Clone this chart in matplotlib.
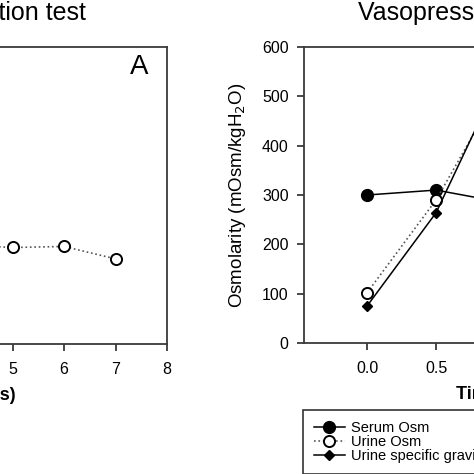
import matplotlib
matplotlib.use("Agg")
import matplotlib.pyplot as plt

plt.rcParams['font.family'] = ['Liberation Sans', 'DejaVu Sans']

# Panel A: water deprivation test (only part visible)
wd_hours = [4, 5, 6, 7]
wd_urine_osm = [200, 195, 197, 172]

# Panel B: vasopressin test
vp_hours = [0.0, 0.5, 1.0]
vp_serum_osm = [300, 310, 284]
vp_urine_osm = [102, 290, 535]
vp_urine_sg = [75, 264, 560]

W = 474.0
fig = plt.figure(figsize=(4.74, 4.74), dpi=100)

def frac(x0, y_top, w, h):
    return [x0 / W, 1 - (y_top + h) / W, w / W, h / W]

spine_col = '#3a3a3a'

def style(ax):
    for s in ax.spines.values():
        s.set_color(spine_col)
        s.set_linewidth(1.3)
    ax.tick_params(direction='out', length=5, width=1.3, color=spine_col,
                   labelsize=11.5, pad=6)
    ax.tick_params(axis='x', pad=8)

# left panel
ax1 = fig.add_axes(frac(-245, 47, 412, 297))
ax1.plot(wd_hours, wd_urine_osm, linestyle=':', color='#555555', lw=1.2,
         marker='o', ms=8, mfc='white', mec='black', mew=1.4)
ax1.set_xlim(0, 8)
ax1.set_ylim(0, 600)
ax1.set_xticks(range(0, 9))
ax1.set_yticks(range(0, 700, 100))
style(ax1)
ax1.set_xlabel('Time (hours)', fontsize=13, fontweight='bold')
ax1.xaxis.set_label_coords(0.5, -0.145)
ax1.text(0.956, 0.975, 'A', transform=ax1.transAxes, ha='right', va='top', fontsize=20)

# right panel
ax2 = fig.add_axes(frac(304, 47, 412, 296))
ax2.plot(vp_hours, vp_serum_osm, '-', color='black', lw=1.1,
         marker='o', ms=8.5, mfc='black', mec='black', label='Serum Osm')
ax2.plot(vp_hours, vp_urine_osm, ':', color='#555555', lw=1.2,
         marker='o', ms=8, mfc='white', mec='black', mew=1.4, label='Urine Osm')
ax2.plot(vp_hours, vp_urine_sg, '-', color='black', lw=1.1,
         marker='D', ms=5, mfc='black', mec='black', label='Urine specific gravity')
ax2.set_xlim(-0.457, -0.457 + 412 / 138.0)
ax2.set_ylim(0, 600)
ax2.set_xticks([0.0, 0.5, 1.0, 1.5, 2.0])
ax2.set_xticklabels(['0.0', '0.5', '1.0', '1.5', '2.0'])
ax2.set_yticks(range(0, 700, 100))
style(ax2)
ax2.set_ylabel('Osmolarity (mOsm/kgH$_2$O)', fontsize=13.5)
ax2.yaxis.set_label_coords(-0.135, 0.5)
ax2.set_xlabel('Time (hours)', fontsize=13, fontweight='bold')
ax2.xaxis.set_label_coords(0.5, -0.145)

leg = fig.legend(loc='upper left', bbox_to_anchor=(303 / W, 1 - 410 / W),
                 borderaxespad=0, fontsize=10.5, handlelength=2.1,
                 handletextpad=0.45, labelspacing=0.0, borderpad=0.75,
                 fancybox=False, frameon=True)
leg.get_frame().set_edgecolor('black')
leg.get_frame().set_linewidth(1.2)

fig.text(86 / W, 1 - 20 / W, 'Water deprivation test', ha='right', va='baseline', fontsize=18)
fig.text(358 / W, 1 - 20 / W, 'Vasopressin test', ha='left', va='baseline', fontsize=18)

fig.savefig('out.png', dpi=100)
